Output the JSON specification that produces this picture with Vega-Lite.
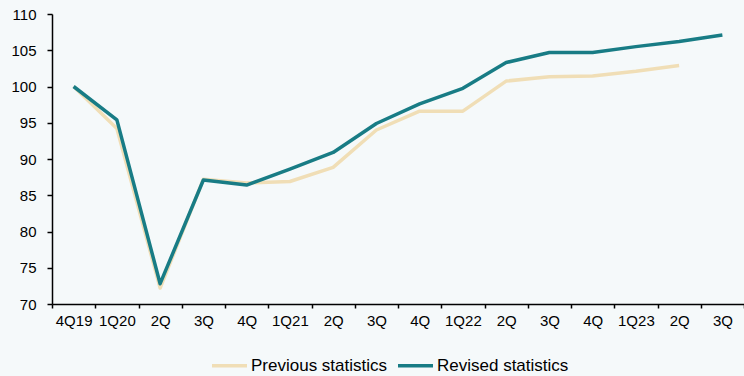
{
  "$schema": "https://vega.github.io/schema/vega-lite/v6.json",
  "width": 692,
  "height": 290,
  "autosize": {"type": "none"},
  "padding": {"left": 52, "top": 14, "right": 0, "bottom": 72},
  "background": "#f5f9fa",
  "config": {
    "view": {"stroke": null},
    "font": "Liberation Sans"
  },
  "data": {
    "values": [
      {"q": "4Q19", "series": "Previous statistics", "v": 100.0},
      {"q": "1Q20", "series": "Previous statistics", "v": 94.2},
      {"q": "2Q20", "series": "Previous statistics", "v": 72.2},
      {"q": "3Q20", "series": "Previous statistics", "v": 87.2},
      {"q": "4Q20", "series": "Previous statistics", "v": 86.7},
      {"q": "1Q21", "series": "Previous statistics", "v": 86.9},
      {"q": "2Q21", "series": "Previous statistics", "v": 88.85},
      {"q": "3Q21", "series": "Previous statistics", "v": 94.0},
      {"q": "4Q21", "series": "Previous statistics", "v": 96.6},
      {"q": "1Q22", "series": "Previous statistics", "v": 96.6},
      {"q": "2Q22", "series": "Previous statistics", "v": 100.75},
      {"q": "3Q22", "series": "Previous statistics", "v": 101.35},
      {"q": "4Q22", "series": "Previous statistics", "v": 101.45},
      {"q": "1Q23", "series": "Previous statistics", "v": 102.1},
      {"q": "2Q23", "series": "Previous statistics", "v": 102.9},
      {"q": "4Q19", "series": "Revised statistics", "v": 100.0},
      {"q": "1Q20", "series": "Revised statistics", "v": 95.4},
      {"q": "2Q20", "series": "Revised statistics", "v": 72.8},
      {"q": "3Q20", "series": "Revised statistics", "v": 87.1},
      {"q": "4Q20", "series": "Revised statistics", "v": 86.4},
      {"q": "1Q21", "series": "Revised statistics", "v": 88.6},
      {"q": "2Q21", "series": "Revised statistics", "v": 90.9},
      {"q": "3Q21", "series": "Revised statistics", "v": 94.9},
      {"q": "4Q21", "series": "Revised statistics", "v": 97.6},
      {"q": "1Q22", "series": "Revised statistics", "v": 99.75},
      {"q": "2Q22", "series": "Revised statistics", "v": 103.3},
      {"q": "3Q22", "series": "Revised statistics", "v": 104.7},
      {"q": "4Q22", "series": "Revised statistics", "v": 104.7},
      {"q": "1Q23", "series": "Revised statistics", "v": 105.5},
      {"q": "2Q23", "series": "Revised statistics", "v": 106.2},
      {"q": "3Q23", "series": "Revised statistics", "v": 107.1}
    ]
  },
  "mark": {"type": "line", "strokeWidth": 3.5, "strokeJoin": "round"},
  "encoding": {
    "x": {
      "field": "q",
      "type": "ordinal",
      "sort": null,
      "scale": {"type": "band", "paddingInner": 0, "paddingOuter": 0},
      "axis": {
        "title": null,
        "tickBand": "extent",
        "labelAngle": 0,
        "labelFontSize": 15,
        "labelColor": "#000000",
        "domainColor": "#000000",
        "tickColor": "#000000",
        "domainWidth": 1.5,
        "tickWidth": 1.5,
        "tickSize": 4,
        "labelPadding": 5,
        "labelExpr": "!isString(datum.value) ? '' : (datum.value == '4Q19' || substring(datum.value, 0, 2) == '1Q' ? datum.value : substring(datum.value, 0, 2))"
      }
    },
    "y": {
      "field": "v",
      "type": "quantitative",
      "scale": {"domain": [70, 110], "nice": false, "zero": false},
      "axis": {"title": null, "grid": false, "tickCount": 8, "labelFontSize": 15, "labelColor": "#000000", "domainColor": "#000000", "tickColor": "#000000", "domainWidth": 1.5, "tickWidth": 1.5, "tickSize": 5, "labelPadding": 11}
    },
    "color": {
      "field": "series",
      "type": "nominal",
      "scale": {"range": ["#f0deb6", "#187c85"]},
      "legend": {
        "title": null,
        "orient": "none",
        "legendX": 158,
        "legendY": 332,
        "padding": 0,
        "direction": "horizontal",
        "symbolType": "stroke",
        "symbolSize": 1225,
        "symbolStrokeWidth": 3.5,
        "labelFontSize": 17,
        "labelColor": "#000000",
        "labelOffset": 2,
        "columnPadding": 3
      }
    }
  }
}
